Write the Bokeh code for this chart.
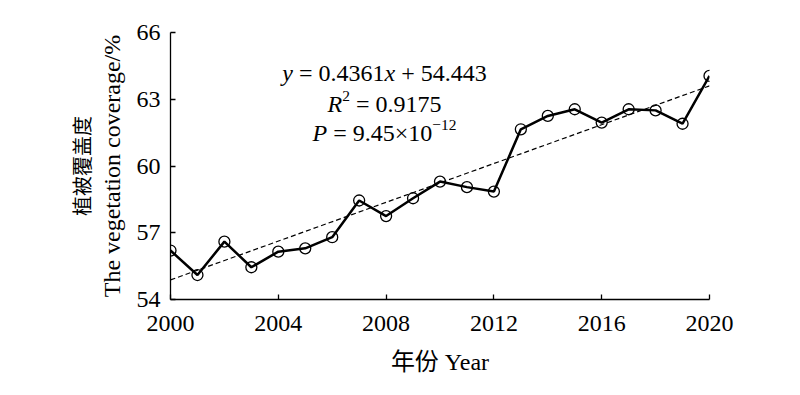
import math
from bokeh.plotting import figure
from bokeh.models import Range1d, FixedTicker, Label, LinearAxis
from bokeh.embed import file_html
from bokeh.resources import INLINE

# ---- data ----
years = list(range(2000, 2021))
coverage = [56.20, 55.10, 56.60, 55.45, 56.15, 56.30, 56.80, 58.45, 57.75, 58.55,
            59.30, 59.05, 58.85, 61.65, 62.25, 62.55, 61.95, 62.55, 62.50, 61.90, 64.05]
trend_years = [2000, 2020]
trend_values = [54.88, 63.60]
x_ticks = [2000, 2004, 2008, 2012, 2016, 2020]
y_ticks = [54, 57, 60, 63, 66]
x_label = "年份 Year"
y_label_cn = "植被覆盖度"
y_label_en = "The vegetation coverage/%"
# (text, style, gap before in em)
eq_lines = [
    [("y", "italic", 0), ("= 0.4361", "normal", 0.25), ("x", "italic", 0), ("+ 54.443", "normal", 0.25)],
    [("R", "italic", 0), ("2", "sup", 0), ("= 0.9175", "normal", 0.25)],
    [("P", "italic", 0), ("= 9.45×10", "normal", 0.25), ("−12", "sup", 0)],
]

W, H = 784, 379
FL, FT, FR, FB = 170, 32, 709, 299   # frame edges in canvas pixels
SERIF = "Liberation Serif"
CJK = "Noto Sans CJK SC"

p = figure(width=W, height=H, output_backend="svg", toolbar_location=None,
           x_range=Range1d(2000, 2020), y_range=Range1d(54, 66),
           min_border_left=FL, min_border_right=W - FR,
           min_border_top=FT, min_border_bottom=H - FB)
p.outline_line_color = None
p.xgrid.visible = False
p.ygrid.visible = False
p.background_fill_color = "white"
p.border_fill_color = "white"

for ax in (p.xaxis[0], p.yaxis[0]):
    ax.axis_line_color = "black"
    ax.axis_line_width = 1.3
    ax.major_tick_line_color = "black"
    ax.major_tick_line_width = 1.3
    ax.major_tick_in = 5
    ax.major_tick_out = 0
    ax.minor_tick_line_color = None
    ax.major_label_text_font = SERIF
    ax.major_label_text_font_size = "24px"
    ax.major_label_text_color = "black"
    ax.axis_label_text_color = "black"
    ax.axis_label_text_font_style = "normal"
p.xaxis[0].ticker = FixedTicker(ticks=x_ticks)
p.yaxis[0].ticker = FixedTicker(ticks=y_ticks)
p.xaxis[0].major_label_standoff = 16
p.yaxis[0].major_label_standoff = 10

p.yaxis[0].axis_label = y_label_en
p.yaxis[0].axis_label_text_font = SERIF
p.yaxis[0].axis_label_text_font_size = "24px"
p.yaxis[0].axis_label_standoff = 9

p.xaxis[0].axis_label = x_label
p.xaxis[0].axis_label_text_font = SERIF + ", " + CJK
p.xaxis[0].axis_label_text_font_size = "24px"
p.xaxis[0].axis_label_standoff = 15

cn_axis = LinearAxis(ticker=FixedTicker(ticks=[]), axis_line_color=None,
                     major_tick_line_color=None, minor_tick_line_color=None,
                     axis_label=y_label_cn, axis_label_text_font=CJK,
                     axis_label_text_font_size="20px", axis_label_text_color="black",
                     axis_label_text_font_style="normal", axis_label_standoff=0)
p.add_layout(cn_axis, "left")

# series
p.line(trend_years, trend_values, line_color="black", line_width=1.2, line_dash="5 3")
p.line(years, coverage, line_color="black", line_width=2.5)
p.scatter(years, coverage, marker="circle", size=11, fill_alpha=0,
          line_color="black", line_width=1.3)

# equation block (screen units are relative to the frame's bottom-left)
EQ = 24.0
SUP = 15.5
reg_w = {" ": 0.25, ".": 0.25, "=": 0.564, "+": 0.564, "×": 0.564, "−": 0.564}
ital_w = {"y": 0.444, "x": 0.444, "R": 0.611, "P": 0.611}


def piece_width(txt, kind):
    size = SUP if kind == "sup" else EQ
    total = 0.0
    for ch in txt:
        if kind == "italic":
            total += ital_w.get(ch, 0.5)
        else:
            total += 0.5 if ch.isdigit() else reg_w.get(ch, 0.5)
    return total * size


center_x = 384
baselines = [72, 103, 132]
for line, base in zip(eq_lines, baselines):
    widths = [piece_width(t, k) + g * EQ for t, k, g in line]
    x0 = center_x - sum(widths) / 2
    for (t, k, g), w in zip(line, widths):
        size = SUP if k == "sup" else EQ
        yy = base - 8 if k == "sup" else base
        p.add_layout(Label(x=x0 + g * EQ - FL, y=FB - yy, x_units="screen", y_units="screen",
                           text=t, text_align="left", text_baseline="alphabetic",
                           text_font=SERIF, text_font_size=f"{size}px",
                           text_font_style="italic" if k == "italic" else "normal",
                           text_color="black"))
        x0 += w

open("out.html", "w").write(file_html(p, INLINE))
